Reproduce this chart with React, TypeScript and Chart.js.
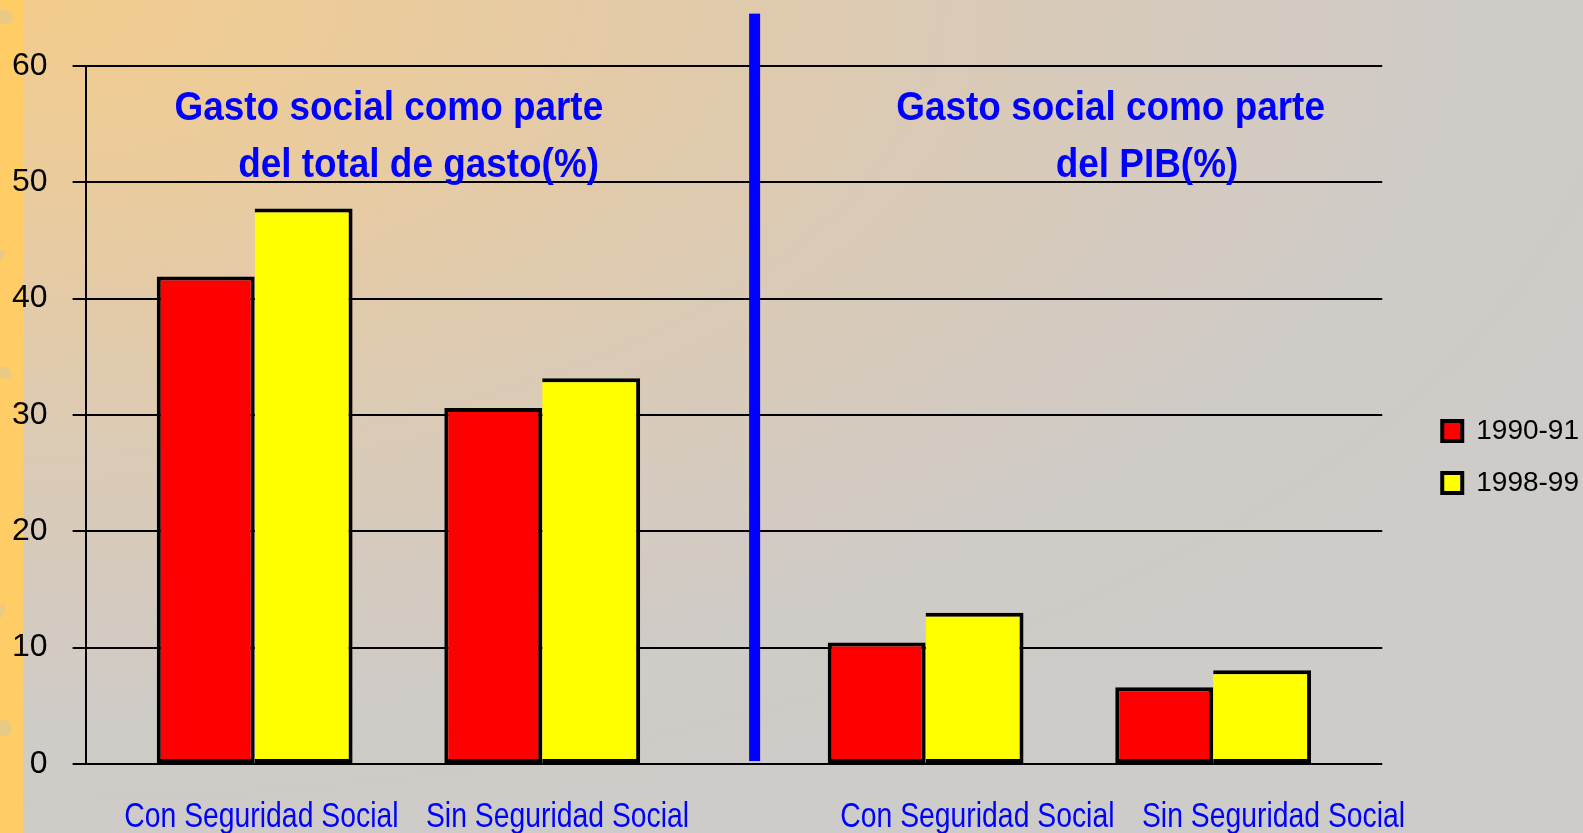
import { useEffect, useRef } from "react";
import { Chart, registerables } from "chart.js";

Chart.register(...registerables);

// ---- data ----
const categories = [
  "Con Seguridad Social",
  "Sin Seguridad Social",
  "Con Seguridad Social",
  "Sin Seguridad Social",
];
// position of each category group on the x axis (two panels, gap between them)
const categoryPositions = [0, 3, 7, 10];
// where each category caption sits on the x axis
const labelPositions = [0.07, 3.16, 7.54, 10.63];
const seriesLabels = ["1990-91", "1998-99"];
const values1990 = [41.9, 30.6, 10.45, 6.6];
const values1998 = [47.75, 33.15, 13.0, 8.05];
const yTickStep = 10;
const yMax = 60;
const panelTitleLeft = ["Gasto social como parte", "del total de gasto(%)"];
const panelTitleRight = ["Gasto social como parte", "del PIB(%)"];

const xMin = -1.764;
const xMax = 11.764;
const dividerX = 5.216;

const SANS = "'Liberation Sans', Arial, sans-serif";

const backgroundPlugin = {
  id: "bg",
  beforeDraw(chart: any) {
    const { ctx, width, height } = chart;
    ctx.save();
    ctx.setTransform(2, 0, 0, 1, 0, 0);
    const g = ctx.createRadialGradient(12, 0, 0, 12, 0, 900);
    g.addColorStop(0, "#F3CC8C");
    g.addColorStop(0.25, "#E8CBA0");
    g.addColorStop(0.5, "#DBCAB5");
    g.addColorStop(0.78, "#D0CBC6");
    g.addColorStop(1, "#CDCCC9");
    ctx.fillStyle = g;
    ctx.fillRect(0, 0, width / 2, height);
    ctx.restore();
    ctx.save();
    ctx.fillStyle = "#FFCC66";
    ctx.fillRect(0, 0, 23, height);
    // faint leaf decorations on the side strip
    ctx.fillStyle = "rgba(215,200,150,0.6)";
    const leaves = [
      [4, 17, 9, 7],
      [1, 255, 3, 6],
      [4, 373, 8, 6],
      [1, 612, 3, 8],
      [4, 728, 8, 8],
    ];
    leaves.forEach(([x, y, rx, ry]) => {
      ctx.beginPath();
      ctx.ellipse(x, y, rx, ry, 0.4, 0, Math.PI * 2);
      ctx.fill();
    });
    ctx.restore();
  },
};

const drawCondensed = (
  ctx: any,
  text: string,
  x: number,
  y: number,
  font: string,
  sx: number
) => {
  ctx.save();
  ctx.font = font;
  ctx.fillStyle = "#0000FF";
  ctx.textAlign = "center";
  ctx.textBaseline = "alphabetic";
  ctx.translate(x, y);
  ctx.scale(sx, 1);
  ctx.fillText(text, 0, 0);
  ctx.restore();
};

const overlayPlugin = {
  id: "overlay",
  afterDatasetsDraw(chart: any) {
    const { ctx, chartArea } = chart;
    const xs = chart.scales.x;
    const ys = chart.scales.y;
    // blue divider between the two panels
    ctx.save();
    ctx.fillStyle = "#0000FF";
    const cx = xs.getPixelForValue(dividerX);
    const top = ys.getPixelForValue(64.5);
    const bot = ys.getPixelForValue(0.25);
    ctx.fillRect(cx - 5.5, top, 11, bot - top);
    ctx.restore();

    // panel titles
    const tFont = `bold 41px ${SANS}`;
    drawCondensed(ctx, panelTitleLeft[0], xs.getPixelForValue(1.4), chartArea.top + 54, tFont, 0.9);
    drawCondensed(ctx, panelTitleLeft[1], xs.getPixelForValue(1.71), chartArea.top + 110.7, tFont, 0.9);
    drawCondensed(ctx, panelTitleRight[0], xs.getPixelForValue(8.93), chartArea.top + 54, tFont, 0.9);
    drawCondensed(ctx, panelTitleRight[1], xs.getPixelForValue(9.31), chartArea.top + 110.7, tFont, 0.9);

    // category captions under the axis (narrow face)
    const lFont = `35px ${SANS}`;
    categories.forEach((c, i) => {
      drawCondensed(ctx, c, xs.getPixelForValue(labelPositions[i]), chartArea.bottom + 62.7, lFont, 0.81);
    });
  },
};

export default function App() {
  const ref = useRef<HTMLCanvasElement>(null);
  useEffect(() => {
    const chart = new Chart(ref.current!, {
      type: "bar",
      data: {
        datasets: [
          {
            label: seriesLabels[0],
            data: categoryPositions.map((x, i) => ({ x, y: values1990[i] })),
            backgroundColor: "#FF0000",
            borderColor: "#000000",
            borderWidth: 4,
            borderSkipped: false,
          },
          {
            label: seriesLabels[1],
            data: categoryPositions.map((x, i) => ({ x, y: values1998[i] })),
            backgroundColor: "#FFFF00",
            borderColor: "#000000",
            borderWidth: 4,
            borderSkipped: "left",
          },
        ],
      } as any,
      options: {
        animation: false,
        responsive: false,
        devicePixelRatio: 1,
        categoryPercentage: 0.681,
        barPercentage: 1,
        layout: { padding: { left: -13, top: 66, bottom: 69, right: -6 } },
        plugins: {
          tooltip: { enabled: false },
          legend: {
            position: "right",
            title: { display: true, text: " ", font: { size: 10, lineHeight: 1 }, padding: 37 },
            labels: {
              boxWidth: 20,
              boxHeight: 20,
              padding: 24,
              color: "#000000",
              font: { family: SANS, size: 28 },
            },
          },
        },
        scales: {
          x: {
            type: "linear",
            offset: false,
            bounds: "data",
            grace: 0,
            min: xMin,
            max: xMax,
            afterBuildTicks: (scale: any) => {
              scale.ticks = categoryPositions.map((v) => ({ value: v }));
            },
            grid: { display: false, drawTicks: false, offset: false },
            border: { display: false },
            ticks: { display: false },
          },
          y: {
            min: 0,
            max: yMax,
            ticks: {
              stepSize: yTickStep,
              padding: 25,
              color: "#000000",
              font: { family: SANS, size: 32 },
            },
            grid: { color: "#000000", lineWidth: 2, tickLength: 13, drawTicks: true },
            border: { display: true, color: "#000000", width: 2 },
          },
          yR: {
            type: "linear",
            position: "right",
            display: true,
            grid: { display: false, drawTicks: false },
            border: { display: false },
            ticks: { display: false },
            afterFit: (s: any) => {
              s.width = 36;
            },
          },
        },
      } as any,
      plugins: [backgroundPlugin, overlayPlugin],
    });
    return () => chart.destroy();
  }, []);
  return (
    <div style={{ position: "absolute", left: 0, top: 0, width: 1583, height: 833 }}>
      <canvas ref={ref} width={1583} height={833} style={{ display: "block" }} />
    </div>
  );
}
